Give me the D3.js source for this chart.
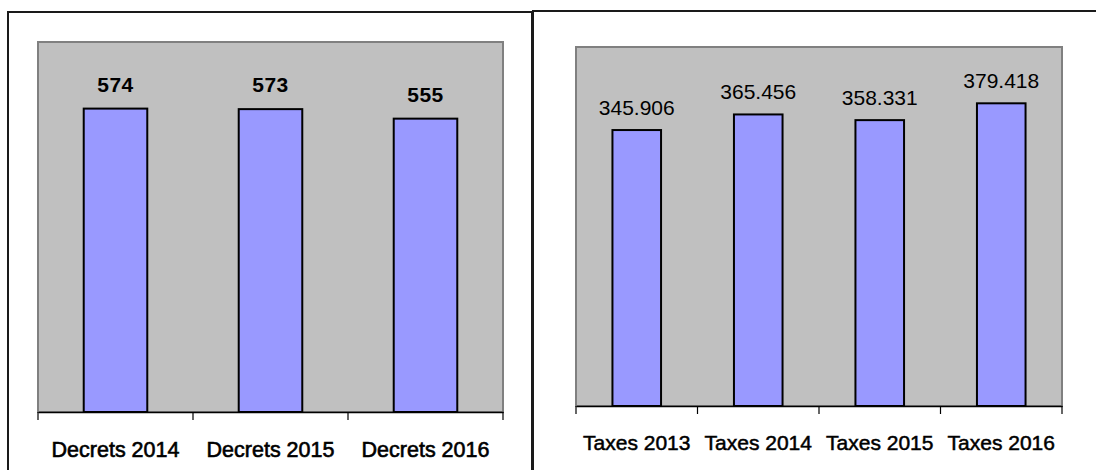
<!DOCTYPE html>
<html>
<head>
<meta charset="utf-8">
<script src="https://cdn.jsdelivr.net/npm/d3@7"></script>
<style>
  html, body { margin: 0; padding: 0; background: #fff; }
  svg { display: block; }
  text { font-family: "Liberation Sans", Arial, sans-serif; }
</style>
</head>
<body>
<svg id="chart" width="1096" height="470"></svg>
<script>
// ---- data ----
const decretsCategories = ["Decrets 2014", "Decrets 2015", "Decrets 2016"];
const decretsValues = [574, 573, 555];
const decretsLabels = ["574", "573", "555"];

const taxesCategories = ["Taxes 2013", "Taxes 2014", "Taxes 2015", "Taxes 2016"];
const taxesValues = [345.906, 365.456, 358.331, 379.418];
const taxesLabels = ["345.906", "365.456", "358.331", "379.418"];

const svg = d3.select("#chart");

// ---- panel frames ----
svg.append("path")
  .attr("d", "M8,472 L8,12 L532,12 L532,472")
  .attr("fill", "none").attr("stroke", "#1a1a1a").attr("stroke-width", 2);
svg.append("path")
  .attr("d", "M533,472 L533,11 L1100,11")
  .attr("fill", "none").attr("stroke", "#1a1a1a").attr("stroke-width", 2);

function drawPanel(cfg) {
  const g = svg.append("g");
  const x = d3.scaleBand().domain(cfg.categories).range([cfg.x0, cfg.x1]).padding(0);
  const y = d3.scaleLinear().domain([0, cfg.max]).range([cfg.yBottom, cfg.yTop]);

  // plot area
  g.append("rect")
    .attr("x", cfg.x0).attr("y", cfg.yTop)
    .attr("width", cfg.x1 - cfg.x0).attr("height", cfg.yBottom - cfg.yTop)
    .attr("fill", "#c0c0c0").attr("stroke", "#808080").attr("stroke-width", 2);

  // bars
  const bw = x.bandwidth() * cfg.barFrac;
  g.selectAll("rect.bar").data(cfg.values).join("rect")
    .attr("class", "bar")
    .attr("x", (d, i) => x(cfg.categories[i]) + (x.bandwidth() - bw) / 2)
    .attr("y", d => y(d))
    .attr("width", bw)
    .attr("height", d => y(0) - y(d))
    .attr("fill", "#9999ff").attr("stroke", "#000").attr("stroke-width", 2);

  // value labels
  g.selectAll("text.val").data(cfg.values).join("text")
    .attr("class", "val")
    .attr("x", (d, i) => x(cfg.categories[i]) + x.bandwidth() / 2)
    .attr("y", d => y(d) - cfg.labelGap)
    .attr("text-anchor", "middle")
    .attr("font-size", cfg.valSize)
    .attr("font-weight", cfg.valWeight)
    .attr("letter-spacing", cfg.valSpacing)
    .attr("fill", "#000")
    .text((d, i) => cfg.labels[i]);

  // x axis
  const axis = d3.axisBottom(x).tickSize(0).tickPadding(cfg.catPad);
  const ax = g.append("g").attr("transform", `translate(0,${cfg.yBottom})`).call(axis);
  ax.select(".domain").attr("stroke", "#000").attr("stroke-width", 1.5);
  ax.selectAll("text")
    .attr("font-size", cfg.catSize)
    .attr("font-weight", "normal")
    .attr("font-family", "'Liberation Sans', Arial, sans-serif")
    .attr("fill", "#000")
    .attr("stroke", "#000").attr("stroke-width", cfg.catStroke);
  // tick marks at category boundaries
  const bounds = cfg.categories.map(c => x(c)).concat([cfg.x1]);
  g.selectAll("line.tk").data(bounds).join("line")
    .attr("class", "tk")
    .attr("x1", d => d).attr("x2", d => d)
    .attr("y1", cfg.yBottom).attr("y2", cfg.yBottom + 8)
    .attr("stroke", "#000").attr("stroke-width", 1.2);
}

drawPanel({
  categories: decretsCategories, values: decretsValues, labels: decretsLabels,
  max: 700, x0: 38, x1: 503, yTop: 42, yBottom: 412, barFrac: 0.41,
  labelGap: 17, valSize: 21, valWeight: "bold", valSpacing: 0.5,
  catSize: 21.5, catPad: 30, catStroke: 0.6
});

drawPanel({
  categories: taxesCategories, values: taxesValues, labels: taxesLabels,
  max: 450, x0: 576, x1: 1062, yTop: 47, yBottom: 406, barFrac: 0.40,
  labelGap: 15, valSize: 21, valWeight: "normal", valSpacing: 0,
  catSize: 21, catPad: 29, catStroke: 0.5
});
</script>
</body>
</html>
